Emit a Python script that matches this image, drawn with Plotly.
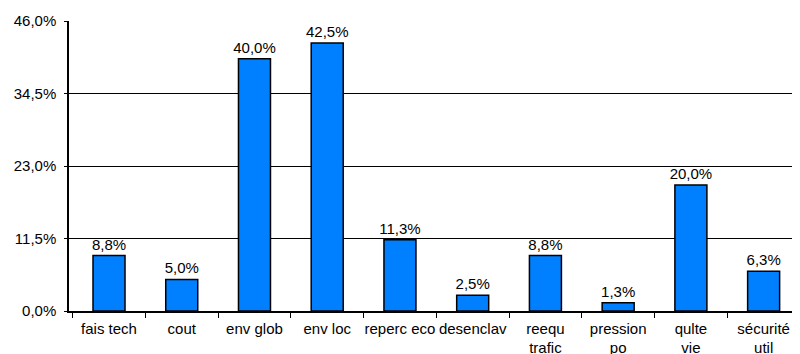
import plotly.graph_objects as go

categories = ["fais tech", "cout", "env glob", "env loc", "reperc eco", "desenclav",
              "reequ<br>trafic", "pression<br>po", "qulte<br>vie", "sécurité<br>util"]
values = [8.8, 5.0, 40.0, 42.5, 11.3, 2.5, 8.8, 1.3, 20.0, 6.3]
y_ticks = [0, 11.5, 23, 34.5, 46]
y_tick_labels = ["0,0%", "11,5%", "23,0%", "34,5%", "46,0%"]

FONT = "Liberation Sans, Arial, sans-serif"

fig = go.Figure(go.Bar(
    x=categories,
    y=values,
    marker=dict(color="#0080ff", line=dict(color="black", width=1.5)),
    texttemplate="%{y:.1f}%",
    textposition="outside",
    constraintext="none",
    textfont=dict(family=FONT, size=15, color="black"),
    cliponaxis=False,
))

# the page body has an 8px default margin, so the figure is 8px smaller
fig.update_layout(
    width=792, height=346,
    margin=dict(l=61, r=0, t=13, b=42.5, autoexpand=False),
    paper_bgcolor="white", plot_bgcolor="white",
    bargap=0.56,
    separators=",.",
    showlegend=False,
    font=dict(family=FONT, size=15, color="black"),
)
fig.update_xaxes(
    type="category",
    range=[-0.55, 9.5],
    automargin=False,
    tickangle=0,
    showline=True, linecolor="black", linewidth=1.5,
    ticks="outside", ticklen=5, tickcolor="black", tickson="boundaries",
    ticklabelstandoff=3,
    showgrid=False,
    tickfont=dict(family=FONT, size=15, color="black"),
)
fig.update_yaxes(
    range=[0, 46], tickvals=y_ticks, ticktext=y_tick_labels,
    automargin=False,
    showline=True, linecolor="black", linewidth=1.5,
    ticks="outside", ticklen=3, tickcolor="black",
    ticklabelstandoff=5,
    showgrid=True, gridcolor="black", gridwidth=1,
    zeroline=False,
    tickfont=dict(family=FONT, size=15, color="black"),
)

fig.write_html("out.html")
